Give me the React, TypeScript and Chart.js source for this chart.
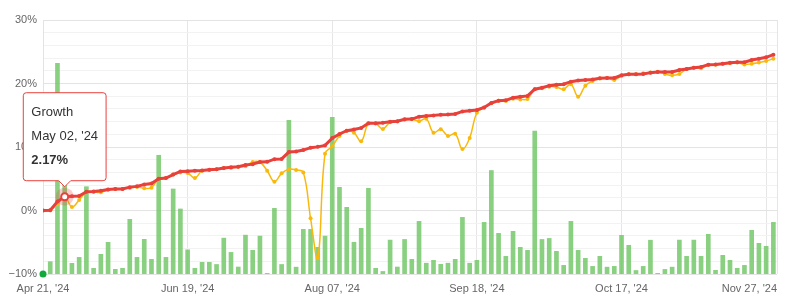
import React, { useEffect, useRef } from 'react';
import { Chart, registerables } from 'chart.js';

Chart.register(...registerables);

// Cumulative growth (%), red series
const growth: number[] = [
  0, 0.05, 1.4, 2.17, 2.25, 2.28, 2.97, 2.98, 3.1, 3.3,
  3.38, 3.4, 3.68, 3.8, 4.1, 4.25, 5.0, 5.1, 5.65, 6.15,
  6.2, 6.27, 6.3, 6.4, 6.5, 6.68, 6.82, 6.9, 7.17, 7.3,
  7.62, 7.66, 8.08, 8.12, 9.2, 9.28, 9.52, 9.9, 10.02, 10.25,
  11.4, 12.05, 12.57, 12.75, 13.0, 13.73, 13.75, 13.83, 13.96, 14.05,
  14.36, 14.4, 14.78, 14.88, 14.98, 15.08, 15.12, 15.2, 15.6, 15.72,
  15.83, 16.22, 16.93, 17.3, 17.35, 17.77, 17.93, 18.05, 19.1, 19.34,
  19.66, 19.82, 19.88, 20.29, 20.48, 20.56, 20.62, 20.81, 20.87, 20.88,
  21.29, 21.44, 21.45, 21.5, 21.71, 21.8, 21.82, 21.83, 22.13, 22.28,
  22.49, 22.6, 22.97, 22.98, 23.12, 23.28, 23.33, 23.35, 23.7, 23.91,
  24.12, 24.54,
];

// Second (yellow) series (%)
const secondary: number[] = [
  0, 0.05, 1.0, 2.17, 0.55, 1.65, 2.9, 2.9, 2.86, 3.25,
  3.38, 3.4, 3.55, 3.7, 3.5, 3.6, 5.0, 5.1, 5.65, 6.0,
  5.9, 5.1, 6.27, 6.38, 6.48, 6.64, 6.7, 6.9, 6.95, 7.65,
  7.6, 6.27, 4.54, 5.85, 6.5, 6.38, 6.0, -1.23, -7.53, 8.95,
  10.1, 11.75, 12.57, 12.25, 10.9, 13.7, 13.7, 12.85, 13.9, 14.0,
  14.3, 14.4, 14.05, 14.45, 12.25, 12.78, 11.75, 12.08, 9.68, 11.42,
  15.4, 16.2, 16.9, 17.3, 17.24, 17.6, 17.5, 17.56, 19.08, 19.25,
  19.5, 19.45, 19.1, 19.87, 17.93, 19.66, 20.4, 20.8, 20.85, 20.55,
  21.2, 21.44, 21.45, 21.6, 21.75, 21.86, 21.5, 21.29, 21.5, 22.28,
  22.49, 22.39, 22.9, 22.95, 23.1, 23.2, 23.3, 23.0, 23.1, 23.3,
  23.55, 23.88,
];

// Green bars: top value on the % axis (bars rise from the -10% floor)
const barTops: number[] = [
  -10, -8.06, 23.18, 8.0, -8.32, -7.38, 3.75, -9.1, -6.9, -5.01,
  -9.26, -9.1, -1.39, -7.38, -4.54, -7.69, 8.7, -7.38, 3.39, 0.24,
  -6.2, -9.1, -8.16, -8.16, -8.5, -4.35, -6.6, -8.9, -3.88, -6.27,
  -4.03, -9.9, 0.34, -8.5, 14.2, -8.92, -2.97, -2.97, -5.8, -4.03,
  14.67, 3.65, 0.5, -5.0, -2.81, 3.49, -9.1, -9.6, -4.66, -8.9,
  -4.56, -7.69, -1.71, -8.3, -7.85, -8.48, -8.3, -7.69, -1.08, -8.3,
  -7.85, -1.87, 6.3, -3.6, -7.22, -3.28, -5.8, -6.27, 12.5, -4.56,
  -4.4, -6.43, -8.64, -1.71, -6.27, -7.53, -8.8, -7.22, -8.92, -8.8,
  -3.91, -5.48, -9.45, -8.8, -4.68, -9.9, -9.28, -8.92, -4.66, -7.22,
  -4.66, -7.22, -3.75, -9.42, -7.06, -7.85, -9.1, -8.64, -3.12, -5.17,
  -5.64, -1.87,
];

const tickIndices: number[] = [0, 20, 40, 60, 80, 100];
const tickLabels: string[] = ["Apr 21, '24", "Jun 19, '24", "Aug 07, '24", "Sep 18, '24", "Oct 17, '24", "Nov 27, '24"];

const yMin = -10;
const yMax = 30;
const yStep = 2;
const yLabelStep = 10;

const seriesName = 'Growth';
const hoverIndex = 3;
const hoverDate = "May 02, '24";

const FONT = '"Liberation Sans", Arial, sans-serif';
const RED = '#e8413c';
const YELLOW = '#f8b90f';

export default function App() {
  const ref = useRef<HTMLCanvasElement>(null);

  useEffect(() => {
    if (!ref.current) return;
    const xMax = growth.length - 1 + 0.5;
    const pts = (arr: number[]) => arr.map((v, i) => ({ x: i, y: v }));

    const xLabelPlugin = {
      id: 'xLabels',
      afterDraw(chart: any) {
        const ctx = chart.ctx;
        const xs = chart.scales.x;
        const area = chart.chartArea;
        ctx.save();
        ctx.font = `11px ${FONT}`;
        ctx.fillStyle = '#666666';
        ctx.textBaseline = 'middle';
        ctx.textAlign = 'left';
        tickIndices.forEach((t, k) => {
          const label = tickLabels[k];
          const w = ctx.measureText(label).width;
          let x = xs.getPixelForValue(t) - w / 2;
          const maxRight = chart.width - 9;
          if (x + w > maxRight) x = maxRight - w;
          if (x < 0) x = 0;
          ctx.fillText(label, x, area.bottom + 15);
        });
        ctx.restore();
      },
    };

    const chart = new Chart(ref.current, {
      type: 'bar',
      data: {
        datasets: [
          {
            type: 'line',
            label: seriesName,
            data: pts(growth),
            borderColor: RED,
            backgroundColor: RED,
            borderWidth: 3,
            pointRadius: 2,
            pointBorderWidth: 0,
            tension: 0,
            order: 2,
          } as any,
          {
            type: 'line',
            label: 'Benchmark',
            data: pts(secondary),
            borderColor: YELLOW,
            backgroundColor: YELLOW,
            borderWidth: 1.5,
            pointRadius: 2,
            pointBorderWidth: 0,
            tension: 0.4,
            order: 3,
          } as any,
          {
            type: 'bar',
            label: 'Daily',
            data: barTops.map((v, i) => ({ x: i, y: [yMin, v] })),
            backgroundColor: 'rgba(108, 196, 96, 0.8)',
            borderWidth: 0,
            barThickness: 4,
            order: 5,
          } as any,
          {
            type: 'line',
            label: 'halo',
            data: [{ x: hoverIndex, y: growth[hoverIndex] }],
            showLine: false,
            pointRadius: 9,
            pointBorderWidth: 0,
            backgroundColor: 'rgba(232, 65, 60, 0.25)',
            order: 1,
          } as any,
          {
            type: 'line',
            label: 'marker',
            data: [{ x: hoverIndex, y: growth[hoverIndex] }],
            showLine: false,
            pointRadius: 3.5,
            pointBorderWidth: 2,
            backgroundColor: '#ffffff',
            borderColor: RED,
            order: 0,
          } as any,
          {
            type: 'line',
            label: 'start',
            data: [{ x: 0, y: yMin }],
            showLine: false,
            pointRadius: 3.5,
            pointBorderWidth: 0,
            backgroundColor: '#12a83c',
            clip: false,
            order: 0,
          } as any,
        ],
      },
      options: {
        responsive: false,
        animation: false,
        events: [],
        layout: { padding: { top: 20, right: 8, bottom: 31, left: 0 } },
        scales: {
          x: {
            type: 'linear',
            min: 0,
            max: xMax,
            offset: false,
            afterBuildTicks: (scale: any) => {
              scale.ticks = [...tickIndices, xMax].map((v) => ({ value: v }));
            },
            ticks: { display: false, autoSkip: false },
            grid: { color: '#e6e6e6', drawTicks: false, offset: false },
            border: { display: false },
          },
          y: {
            type: 'linear',
            min: yMin,
            max: yMax,
            afterFit: (scale: any) => {
              scale.width = 43;
            },
            ticks: {
              stepSize: yStep,
              autoSkip: false,
              maxTicksLimit: 100,
              padding: 6,
              color: '#666666',
              font: { family: FONT, size: 11 },
              callback: (v: any) => {
                const n = Number(v);
                if (Math.abs(n % yLabelStep) > 1e-6) return '';
                return (n < 0 ? '\u2212' + Math.abs(n) : String(n)) + '%';
              },
            },
            grid: {
              drawTicks: false,
              color: (c: any) =>
                Math.abs(c.tick.value % yLabelStep) < 1e-6 ? '#e3e3e3' : '#f2f2f2',
            },
            border: { display: true, color: '#e3e3e3' },
          },
        },
        plugins: {
          legend: { display: false },
          tooltip: {
            enabled: true,
            filter: (item: any) => item.datasetIndex === 0,
            backgroundColor: '#ffffff',
            borderColor: RED,
            borderWidth: 1,
            cornerRadius: 3,
            caretSize: 6,
            caretPadding: 10,
            xAlign: 'center',
            yAlign: 'bottom',
            displayColors: false,
            padding: { top: 8, bottom: 8, left: 8, right: 8 },
            titleColor: '#333333',
            bodyColor: '#333333',
            titleFont: { family: FONT, size: 13, weight: 'normal', lineHeight: '24px' },
            bodyFont: { family: FONT, size: 13, weight: 'bold', lineHeight: '24px' },
            titleSpacing: 0,
            titleMarginBottom: 0,
            bodySpacing: 0,
            callbacks: {
              title: () => [seriesName, hoverDate],
              label: (item: any) => Number(item.parsed.y).toFixed(2) + '%',
            },
          },
        },
      } as any,
      plugins: [xLabelPlugin],
    });

    const el = chart.getDatasetMeta(0).data[hoverIndex] as any;
    chart.tooltip?.setActiveElements([{ datasetIndex: 0, index: hoverIndex }], { x: el.x, y: el.y });
    chart.update();

    return () => chart.destroy();
  }, []);

  return (
    <div style={{ position: 'fixed', left: 0, top: 0, width: 786, height: 305, background: '#fff' }}>
      <canvas ref={ref} width={786} height={305} />
    </div>
  );
}
